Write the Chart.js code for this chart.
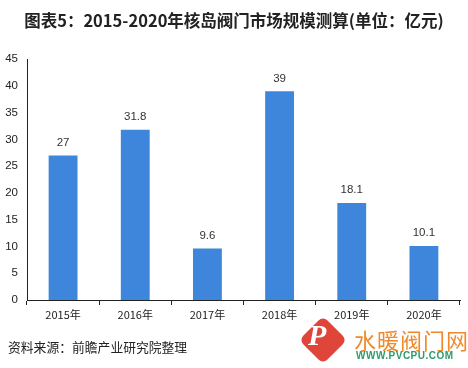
<!DOCTYPE html>
<html><head><meta charset="utf-8">
<script src="https://cdn.jsdelivr.net/npm/chart.js@4/dist/chart.umd.min.js"></script>
<style>
html,body{margin:0;padding:0;background:#fff;}
#wrap{position:relative;width:468px;height:368px;overflow:hidden;}
#c{position:absolute;left:0;top:0;}
.t{position:absolute;font-family:"Noto Sans CJK SC","Noto Sans",sans-serif;white-space:nowrap;}
#title{left:0;width:468px;top:8px;text-align:center;font-size:16.5px;font-weight:bold;color:#222;}
#src{left:8px;top:337px;font-size:12.8px;color:#222;}
#logo{position:absolute;left:306px;top:323px;width:34px;height:34px;background:#e0453a;border-radius:6px;transform:rotate(45deg);}
#logoP{left:308px;top:318px;font-size:30px;font-style:italic;font-weight:bold;color:#fff;font-family:"Liberation Serif",serif;}
#logo1{left:354px;top:323px;font-size:22px;color:#f08a2c;letter-spacing:1px;}
#logo2{left:356px;top:350px;font-size:10px;font-weight:bold;color:#2f9a6a;font-family:"Liberation Sans",sans-serif;letter-spacing:0.5px;}
</style></head>
<body><div id="wrap">
<canvas id="c" width="468" height="368"></canvas>
<div id="title" class="t">图表5：2015-2020年核岛阀门市场规模测算(单位：亿元)</div>
<div id="src" class="t">资料来源：前瞻产业研究院整理</div>
<div id="logo"></div>
<div id="logoP" class="t">P</div>
<div id="logo1" class="t">水暖阀门网</div>
<div id="logo2" class="t">WWW.PVCPU.COM</div>
</div>
<script>
const categories = ['2015年','2016年','2017年','2018年','2019年','2020年'];
const marketSize = [27, 31.8, 9.6, 39, 18.1, 10.1];
const valueLabels = ['27','31.8','9.6','39','18.1','10.1'];
const yMin = 0, yMax = 45, yStep = 5;

const labelPlugin = {
  id: 'valLabels',
  afterDatasetsDraw(chart) {
    const ctx = chart.ctx;
    const meta = chart.getDatasetMeta(0);
    ctx.save();
    ctx.font = '11.5px "Liberation Sans","Noto Sans",sans-serif';
    ctx.fillStyle = '#333';
    ctx.textAlign = 'center';
    ctx.textBaseline = 'bottom';
    meta.data.forEach((bar, i) => {
      ctx.fillText(valueLabels[i], bar.x, bar.y - 7);
    });
    ctx.restore();
  }
};

new Chart(document.getElementById('c'), {
  type: 'bar',
  data: {
    labels: categories,
    datasets: [{
      data: marketSize,
      backgroundColor: '#3d86dc',
      categoryPercentage: 1,
      barPercentage: 0.4
    }]
  },
  options: {
    responsive: false,
    animation: false,
    devicePixelRatio: 1,
    layout: { padding: { top: 59, left: 0, right: 8, bottom: 43 } },
    plugins: { legend: { display: false }, tooltip: { enabled: false } },
    scales: {
      x: {
        grid: { display: true, drawOnChartArea: false, drawTicks: true, tickLength: 5, color: '#222', offset: true },
        border: { display: true, color: '#222', width: 1 },
        ticks: { color: '#222', padding: 3, font: { size: 11, family: '"Noto Sans CJK SC","Noto Sans",sans-serif' } },
        afterFit(s) { s.height = 25; }
      },
      y: {
        min: yMin, max: yMax,
        grid: { display: false, drawTicks: false },
        border: { display: true, color: '#222', width: 1 },
        ticks: { stepSize: yStep, color: '#222', padding: 9, font: { size: 11.5, family: '"Liberation Sans","Noto Sans",sans-serif' } },
        afterFit(s) { s.width = 27; }
      }
    }
  },
  plugins: [labelPlugin]
});
</script>
</body></html>
